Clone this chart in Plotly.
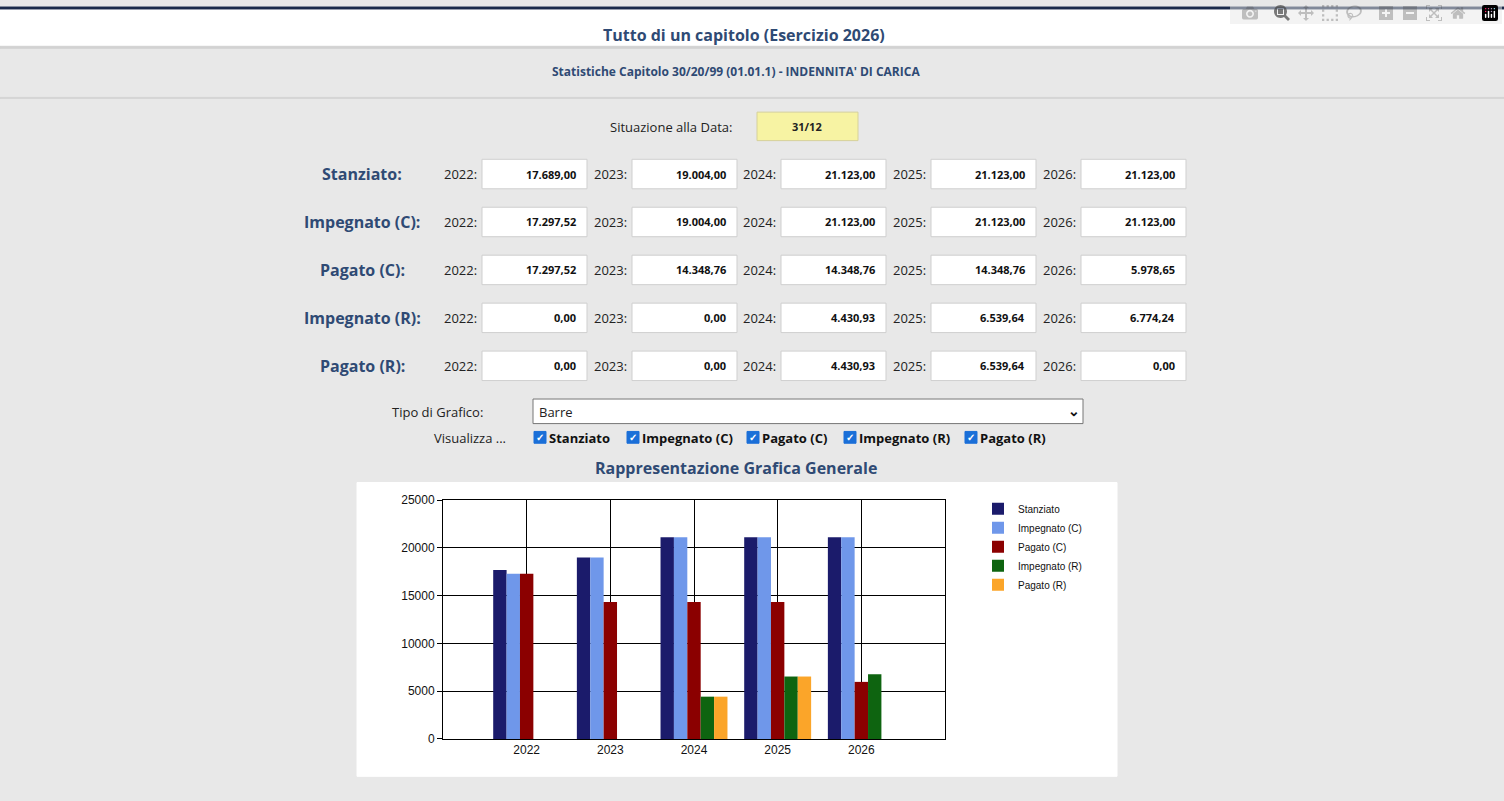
import plotly.graph_objects as go

# Data
anni = ["2022", "2023", "2024", "2025", "2026"]
stanziato = [17689.00, 19004.00, 21123.00, 21123.00, 21123.00]
impegnato_c = [17297.52, 19004.00, 21123.00, 21123.00, 21123.00]
pagato_c = [17297.52, 14348.76, 14348.76, 14348.76, 5978.65]
impegnato_r = [0.00, 0.00, 4430.93, 6539.64, 6774.24]
pagato_r = [0.00, 0.00, 4430.93, 6539.64, 0.00]

serie = [("Stanziato", stanziato, "#1b1b6b"),
         ("Impegnato (C)", impegnato_c, "#6f97ea"),
         ("Pagato (C)", pagato_c, "#8b0000"),
         ("Impegnato (R)", impegnato_r, "#0e6410"),
         ("Pagato (R)", pagato_r, "#fba529")]
righe = ["Stanziato:", "Impegnato (C):", "Pagato (C):", "Impegnato (R):", "Pagato (R):"]

W, H = 1504, 801
BLUE = "#2f4a74"
FONT = "Open Sans"


def px(x):
    return x / W


def py(y):
    return 1 - y / H


def it(v):
    s = f"{v:,.2f}"
    return s.replace(",", "X").replace(".", ",").replace("X", ".")


fig = go.Figure()
xs = list(range(len(anni)))
for name, vals, col in serie:
    fig.add_trace(go.Bar(x=xs, y=vals, name=name, marker=dict(color=col, line=dict(width=0))))

shapes = []
ann = []


def rect(x0, y0, x1, y1, fill, line=None, layer="below"):
    shapes.append(dict(type="rect", xref="paper", yref="paper", x0=px(x0), x1=px(x1),
                       y0=py(y1), y1=py(y0), fillcolor=fill, layer=layer,
                       line=dict(color=line or fill, width=1)))


def text(x, y, t, size=13, color="#222", bold=False, xanchor="left"):
    if bold:
        t = "<b>" + t + "</b>"
    ann.append(dict(x=px(x), y=py(y), xref="paper", yref="paper", text=t, showarrow=False,
                    xanchor=xanchor, yanchor="middle", font=dict(family=FONT, size=size, color=color)))


# Header bands
rect(0, 0, W, 40, "white")
rect(0, 0, W, 2, "#1b2b4b")
rect(0, 40, W, 42, "#d2d2d2")
rect(0, 92, W, 93, "#d4d4d4")
text(744, 28, "Tutto di un capitolo (Esercizio 2026)", 16, BLUE, True, "center")
text(736, 66, "Statistiche Capitolo 30/20/99 (01.01.1) - INDENNITA' DI CARICA", 12, BLUE, True, "center")

# Situazione alla data
text(734, 122, "Situazione alla Data:", 13, "#222", False, "right")
rect(757, 107, 858, 136, "#f7f3a3", "#d6d19a")
text(807, 122, "31/12", 11, "#222", True, "center")

# Value grid
valori = [stanziato, impegnato_c, pagato_c, impegnato_r, pagato_r]
box_x = [482, 632, 781, 931, 1081]
for r, (lab, vals) in enumerate(zip(righe, valori)):
    yc = 170 + r * 48.8
    text(362, yc, lab, 16, BLUE, True, "center")
    for c, bx in enumerate(box_x):
        text(bx - 3, yc, anni[c] + ":", 13, "#222", False, "right")
        rect(bx, yc - 15, bx + 105, yc + 15, "white", "#cfcfcf")
        text(bx + 96, yc, it(vals[c]), 11, "#111", True, "right")

# Tipo di grafico
text(390, 412, "Tipo di Grafico:", 13)
rect(533, 399, 1083, 424, "white", "#767676")
text(537, 412, "Barre", 13)
text(1074, 411, "⌄", 14, "#111", True, "center")
text(432, 439, "Visualizza ...", 13)
cb_x = [534, 627, 747, 844, 965]
for bx, (name, _, _) in zip(cb_x, serie):
    rect(bx, 432, bx + 12, 444, "#1a6fd8", "#1a6fd8", layer="above")
    text(bx + 6, 438, "✓", 10, "white", True, "center")
    text(bx + 13, 439, name, 13, "#111", True)

text(736, 469, "Rappresentazione Grafica Generale", 16, BLUE, True, "center")
rect(357, 484, 1117, 783, "white")

fig.update_layout(
    width=W, height=H, margin=dict(l=0, r=0, t=0, b=0),
    paper_bgcolor="#e8e8e8", plot_bgcolor="white",
    barmode="group", bargap=0.2, bargroupgap=0,
    shapes=shapes, annotations=ann,
    legend=dict(x=px(978), y=py(496), xanchor="left", yanchor="top",
                font=dict(family="Arial", size=10, color="#111"), bgcolor="rgba(0,0,0,0)",
                tracegroupgap=0, itemwidth=30),
    xaxis=dict(domain=[px(443), px(945)], range=[-1, 5], tickvals=xs, ticktext=anni,
               showgrid=True, gridcolor="black", gridwidth=1, showline=True, linecolor="black",
               mirror=True, ticks="", zeroline=False,
               tickfont=dict(family="Arial", size=12, color="#111")),
    yaxis=dict(domain=[py(745), py(502)], range=[0, 25000], dtick=5000, tickformat="d",
               showgrid=True, gridcolor="black", gridwidth=1, showline=True, linecolor="black",
               mirror=True, ticks="outside", ticklen=5, tickcolor="black", zeroline=False,
               tickfont=dict(family="Arial", size=12, color="#111")),
)

fig.write_html("out.html",
               post_script="document.body.style.margin='0';document.body.style.overflow='hidden';")
